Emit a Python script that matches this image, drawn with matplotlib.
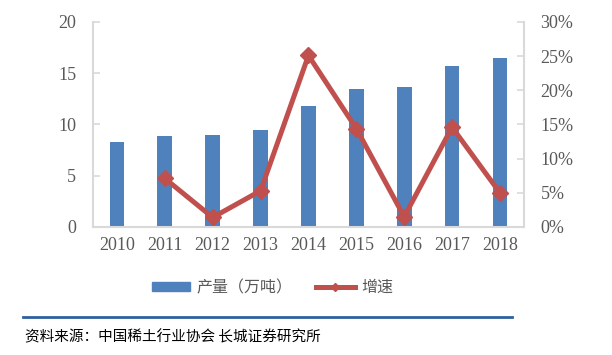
import matplotlib
matplotlib.use("Agg")
import matplotlib.pyplot as plt
from matplotlib.lines import Line2D
import numpy as np

# data
years = ["2010", "2011", "2012", "2013", "2014", "2015", "2016", "2017", "2018"]
output = [8.25, 8.85, 9.0, 9.45, 11.8, 13.5, 13.7, 15.7, 16.5]   # 万吨
growth = [np.nan, 7.1, 1.4, 5.3, 25.1, 14.4, 1.5, 14.6, 5.0]     # %

bar_color = "#4F81BD"
line_color = "#C0504D"
grey = "#595959"
spine_grey = "#D9D9D9"

plt.rcParams['font.family'] = ['Noto Sans CJK SC', 'DejaVu Sans']

fig = plt.figure(figsize=(6.12, 3.55), dpi=100)
ax = fig.add_axes([0.152, 0.3606, 0.704, 0.5775])
ax2 = ax.twinx()

x = np.arange(len(years))
ax.bar(x, output, width=0.31, color=bar_color, zorder=2)
ax2.plot(x, growth, color=line_color, linewidth=3.6, marker="D", markersize=8.5,
         zorder=3)

ax.set_xlim(-0.5, len(years) - 0.5)
ax.set_ylim(0, 20)
ax.set_yticks(range(0, 21, 5))
ax2.set_ylim(0, 30)
ax2.set_yticks(range(0, 31, 5))
ax2.set_yticklabels([f"{v}%" for v in range(0, 31, 5)])
ax.set_xticks(x)
ax.set_xticklabels(years)

for lab in ax.get_xticklabels() + ax.get_yticklabels() + ax2.get_yticklabels():
    lab.set_fontfamily("Liberation Serif")
    lab.set_fontsize(13)
    lab.set_color(grey)

for a in (ax, ax2):
    for s in a.spines.values():
        s.set_visible(False)
ax.spines["left"].set_visible(True)
ax.spines["bottom"].set_visible(True)
ax2.spines["right"].set_visible(True)
for s in (ax.spines["left"], ax.spines["bottom"], ax2.spines["right"]):
    s.set_color(spine_grey)
    s.set_linewidth(1.5)

ax.tick_params(axis="y", direction="in", length=5, width=1.2, color=spine_grey, pad=12)
ax.tick_params(axis="x", length=0, pad=7)
ax2.tick_params(axis="y", direction="in", length=5, width=1.2, color=spine_grey, pad=12)

# legend below the plot
handles = [
    plt.Rectangle((0, 0), 1, 1, color=bar_color),
    Line2D([0], [0], color=line_color, linewidth=3.6, marker="D", markersize=4),
]
leg = fig.legend(handles, ["产量（万吨）", "增速"], loc="center",
                 bbox_to_anchor=(0.445, 0.19), ncol=2, frameon=False,
                 fontsize=11.5, handlelength=2.4, handleheight=0.55,
                 columnspacing=1.5, handletextpad=0.4)
for t in leg.get_texts():
    t.set_color(grey)

# rule and source note
fig.add_artist(Line2D([0.038, 0.837], [0.107, 0.107], color="#2F5F9E",
                      linewidth=2, transform=fig.transFigure))
fig.text(0.041, 0.051, "资料来源：中国稀土行业协会 长城证券研究所", fontsize=10.5,
         style="italic", color="black", va="center", ha="left")

fig.savefig("out.png", dpi=100)
